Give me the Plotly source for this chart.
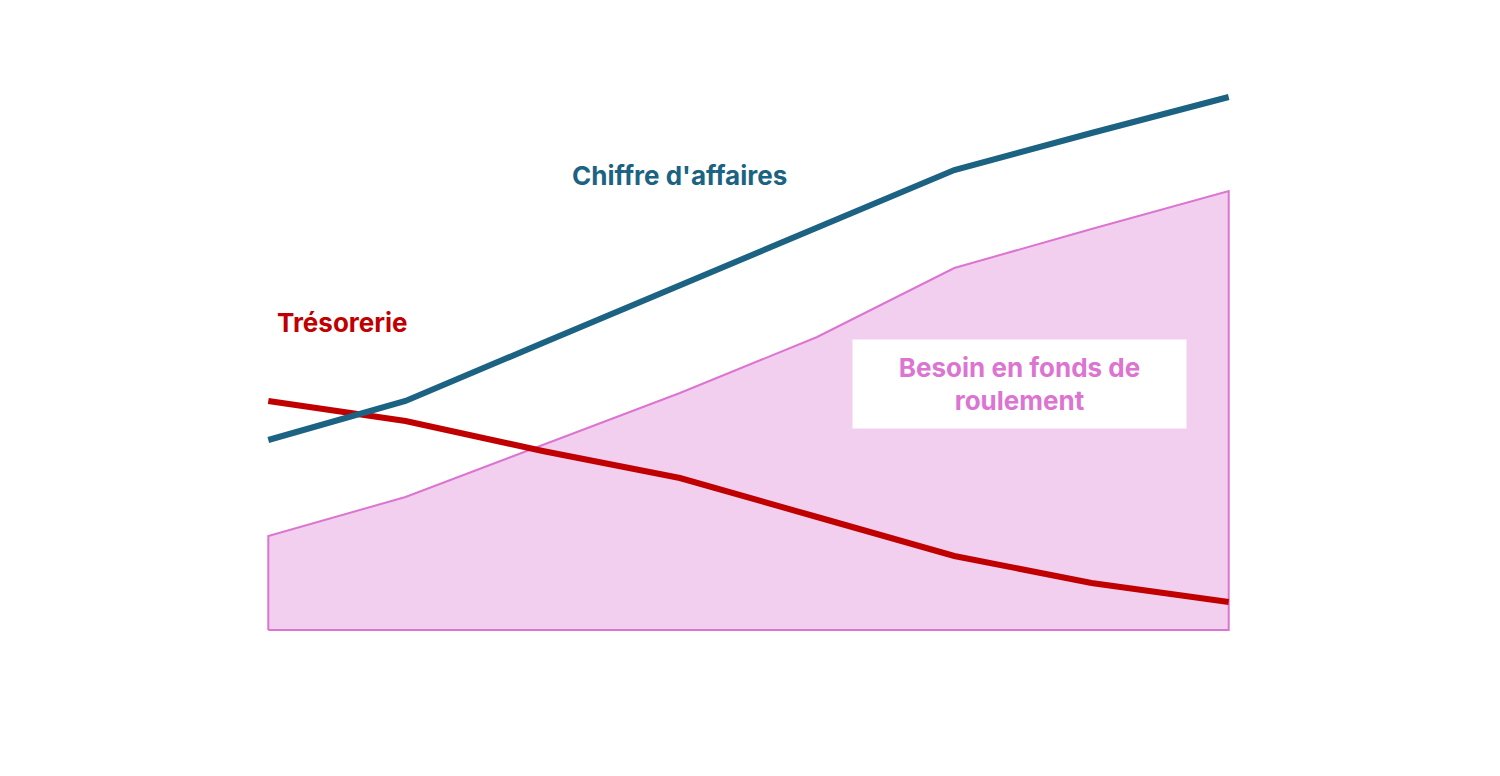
import plotly.graph_objects as go

# ── Data (y values in chart units, x = periods) ─────────────────────────
periods = [0, 1, 2, 3, 4, 5, 6, 7]
chiffre_affaires = [190, 229, 287, 345, 402, 460, 497, 533]
bfr = [94, 133, 185, 237, 293, 362, 401, 439]
tresorerie = [229, 209, 179, 152, 113, 74, 47, 28]

BLUE = "#1b6283"
RED = "#c00000"
PINK_LINE = "#dc74d2"
PINK_FILL = "#f2cfee"
FONT = "Inter"

fig = go.Figure()

# closed polygon so the outline runs down both sides and along the base
poly_x = [periods[0]] + periods + [periods[-1], periods[0]]
poly_y = [0] + bfr + [0, 0]
fig.add_trace(go.Scatter(
    x=poly_x, y=poly_y, mode="lines", fill="toself",
    fillcolor=PINK_FILL, line=dict(color=PINK_LINE, width=2),
    hoverinfo="skip", showlegend=False,
))
fig.add_trace(go.Scatter(
    x=periods, y=tresorerie, mode="lines",
    line=dict(color=RED, width=6), showlegend=False,
))
fig.add_trace(go.Scatter(
    x=periods, y=chiffre_affaires, mode="lines",
    line=dict(color=BLUE, width=6), showlegend=False,
))

fig.add_annotation(
    x=3.0, y=455, xref="x", yref="y", showarrow=False,
    text="<b>Chiffre d'affaires</b>",
    font=dict(family=FONT, size=26, color=BLUE),
)
fig.add_annotation(
    x=0.543, y=308, xref="x", yref="y", showarrow=False,
    text="<b>Trésorerie</b>",
    font=dict(family=FONT, size=26, color=RED),
)
fig.add_annotation(
    x=5.474, y=246, xref="x", yref="y", showarrow=False,
    text="<b>Besoin en fonds de<br>roulement</b>",
    font=dict(family=FONT, size=26, color=PINK_LINE),
    bgcolor="white", width=331, height=86, align="center",
)

# page body has an 8px margin, so the figure is shifted to compensate
fig.update_layout(
    width=1484, height=760,
    margin=dict(l=226, r=229, t=0, b=118),
    plot_bgcolor="white", paper_bgcolor="white",
    xaxis=dict(range=[-0.25, 7.25], visible=False),
    yaxis=dict(range=[-20, 622], visible=False),
)

fig.write_html("out.html")
